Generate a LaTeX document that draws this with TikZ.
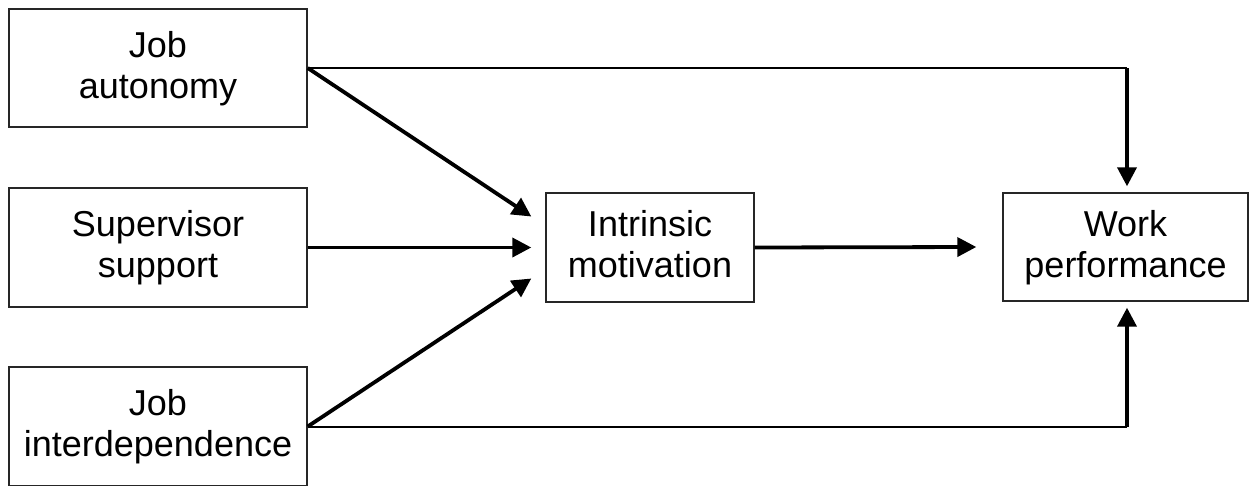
\documentclass[tikz,border=0pt]{standalone}
\usepackage{fontspec}
\setmainfont{Liberation Sans}
\usetikzlibrary{arrows.meta}
\newcommand\firststrut{\rule{0pt}{32pt}}
\begin{document}
\begin{tikzpicture}[x=1pt,y=-1pt,
  box/.style={draw=black!85, line width=1.4pt, align=center, inner sep=0pt,
    font=\fontsize{36}{41}\selectfont},
  thinline/.style={line width=2pt},
  arr/.style={line width=3.8pt, -{Triangle[length=19pt,width=19pt]}}]
\useasboundingbox (0,0) rectangle (1249,485);
\node[box, minimum width=298pt, minimum height=118pt] (ja) at (158,68) {\firststrut Job\\autonomy\strut};
\node[box, minimum width=298pt, minimum height=119pt] (ss) at (158,247.5) {\firststrut Supervisor\\support\strut};
\node[box, minimum width=298pt, minimum height=119pt] (ji) at (158,426.5) {\firststrut Job\\interdependence\strut};
\node[box, minimum width=208pt, minimum height=109pt] (im) at (650,247.5) {\firststrut Intrinsic\\motivation\strut};
\node[box, minimum width=245pt, minimum height=108pt] (wp) at (1125.5,247) {\firststrut Work\\performance\strut};
\coordinate (tr) at (1127,68);
\coordinate (br) at (1127,426.5);
\coordinate (wpt) at ([yshift=6pt]wp.north);
\coordinate (wpb) at ([yshift=-6pt]wp.south);
\draw[arr] (ja.east) -- ([xshift=-14pt,yshift=31pt]im.west);
\draw[arr] (ss.east) -- ([xshift=-14pt]im.west);
\draw[arr] (ji.east) -- ([xshift=-14pt,yshift=-31pt]im.west);
\draw[arr] (im.east) -- ([xshift=-26pt]wp.west);
\draw[thinline] (ja.east) -- (tr);
\draw[thinline] (ji.east) -- (br);
\draw[arr] (tr) -- (tr |- wpt);
\draw[arr] (br) -- (br |- wpb);
\end{tikzpicture}
\end{document}
